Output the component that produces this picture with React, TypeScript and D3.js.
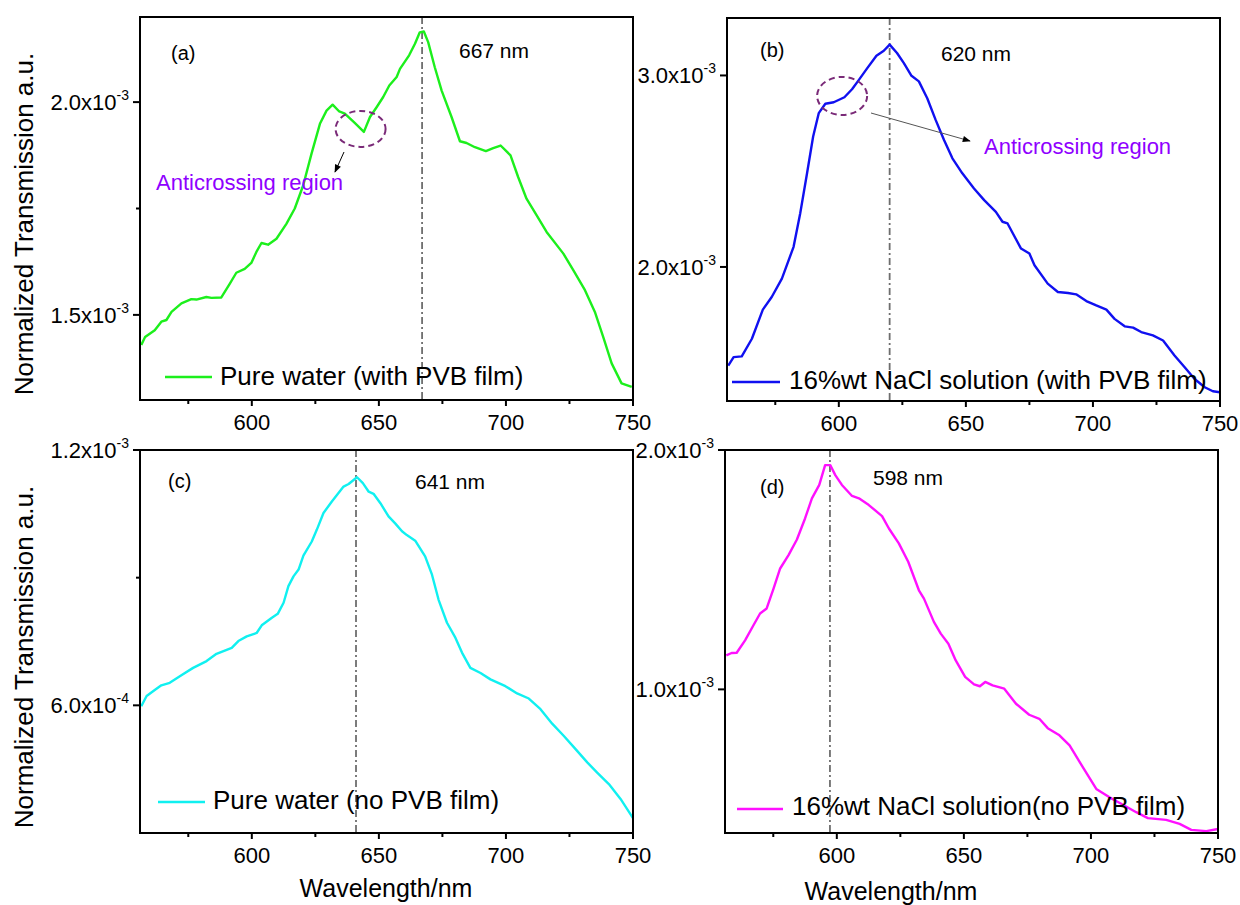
import React from 'react';
import * as d3 from 'd3';

const FONT = '"Liberation Sans", Arial, Helvetica, sans-serif';

// shared x axis
const X_DOMAIN: [number, number] = [556, 750];
const xMajorTicks = [600, 650, 700, 750];
const xMinorTicks = [575, 625, 675, 725];

// (a) Pure water (with PVB film) — values in units of 1e-3
const wlA = [556.5, 558, 561.8, 564.4, 566.4, 568.4, 572.3, 576.2, 578.2, 582.1, 584.1, 588, 591.3, 593.9, 597.2, 599.8, 601.8, 603.8, 606.4, 609.7, 613.6, 616.9, 620.2, 623.5, 626.8, 629.4, 631.8, 634.4, 636.6, 640.5, 644.1, 646.5, 649.1, 651.7, 654.1, 657, 658.3, 661.9, 664.2, 666.1, 667.7, 669.4, 672, 674.7, 678.6, 681.9, 684.5, 687.8, 692.1, 695, 697.9, 701.8, 704.8, 708.1, 712.1, 716, 722.6, 726.5, 731.1, 735, 738.3, 741.6, 745.5, 749.5];
const trA = [1.429, 1.448, 1.464, 1.484, 1.488, 1.507, 1.527, 1.537, 1.536, 1.542, 1.54, 1.541, 1.573, 1.599, 1.608, 1.622, 1.648, 1.669, 1.665, 1.679, 1.714, 1.75, 1.804, 1.879, 1.949, 1.98, 1.994, 1.978, 1.973, 1.951, 1.93, 1.965, 1.988, 2.012, 2.039, 2.059, 2.078, 2.11, 2.137, 2.164, 2.166, 2.141, 2.082, 2.027, 1.965, 1.908, 1.904, 1.894, 1.885, 1.892, 1.898, 1.875, 1.824, 1.773, 1.734, 1.695, 1.644, 1.605, 1.558, 1.507, 1.448, 1.386, 1.339, 1.331];

// (b) 16%wt NaCl solution (with PVB film) — units of 1e-3
const wlB = [556.5, 558.6, 561.8, 565.8, 570.1, 573.6, 577.6, 582.2, 584.8, 587.5, 589.9, 592.1, 594.7, 598, 602.2, 605.2, 607.9, 611.2, 614.8, 617.7, 620, 622.9, 625.6, 628.6, 631.5, 634.8, 638.1, 641.4, 644.7, 648.6, 653.2, 657.2, 661.8, 664.4, 666.4, 671.7, 675, 677, 682.2, 686.2, 690.2, 693.4, 697.4, 701.3, 705.3, 708.5, 712.5, 715.8, 719, 723.6, 727.6, 732.1, 736.1, 740, 744, 747.2, 750];
const trB = [1.485, 1.529, 1.533, 1.625, 1.777, 1.843, 1.939, 2.105, 2.279, 2.489, 2.681, 2.803, 2.852, 2.86, 2.886, 2.928, 2.977, 3.038, 3.103, 3.129, 3.161, 3.117, 3.064, 2.998, 2.969, 2.881, 2.768, 2.663, 2.567, 2.489, 2.41, 2.349, 2.288, 2.236, 2.227, 2.096, 2.07, 2.009, 1.913, 1.869, 1.864, 1.857, 1.822, 1.799, 1.777, 1.729, 1.69, 1.683, 1.66, 1.643, 1.616, 1.538, 1.476, 1.415, 1.372, 1.351, 1.346];

// (c) Pure water (no PVB film) — units of 1e-4
const wlC = [556.5, 558.6, 561.8, 564.4, 567.7, 572.9, 576.9, 582.2, 586.1, 592.1, 594.7, 598, 601.9, 603.9, 607.9, 610.2, 612.5, 614.4, 616.4, 618.4, 620.3, 623.6, 625.6, 628.2, 631.5, 636.1, 638.1, 641.4, 643.7, 646, 647.9, 650.6, 653.8, 656.5, 659.1, 661, 664.3, 668.2, 670.9, 673.5, 676.8, 680.1, 682.7, 686, 690, 693.9, 699.8, 704.4, 709, 713.6, 718.2, 722.8, 727.4, 732, 735.9, 740.5, 745.1, 750];
const trC = [5.98, 6.22, 6.36, 6.47, 6.53, 6.73, 6.88, 7.04, 7.21, 7.35, 7.51, 7.62, 7.7, 7.88, 8.06, 8.15, 8.41, 8.8, 9.03, 9.19, 9.52, 9.85, 10.13, 10.52, 10.79, 11.14, 11.2, 11.36, 11.22, 11.02, 10.97, 10.75, 10.44, 10.27, 10.09, 10.0, 9.87, 9.5, 9.07, 8.48, 7.94, 7.59, 7.24, 6.88, 6.76, 6.61, 6.45, 6.28, 6.16, 5.91, 5.57, 5.28, 4.97, 4.66, 4.42, 4.15, 3.8, 3.35];

// (d) 16%wt NaCl solution (no PVB film) — units of 1e-3
const wlD = [556.5, 558.6, 560.6, 563.9, 567.2, 569.8, 572.4, 575.1, 577.7, 581, 584.3, 587.5, 590.2, 593.1, 595.4, 597.4, 599.4, 602, 606, 608.7, 612.6, 617.8, 620.5, 624.4, 628.1, 632.3, 634.3, 638.2, 640.9, 643.9, 646.8, 650.5, 654, 656.3, 658.4, 661.3, 665.9, 670.5, 675.7, 679.7, 683, 687.6, 691.6, 696.8, 702.1, 707.3, 712.6, 717.8, 722.4, 729.6, 734.9, 739.5, 745.4, 750];
const trD = [1.142, 1.152, 1.153, 1.205, 1.268, 1.317, 1.338, 1.421, 1.505, 1.561, 1.626, 1.714, 1.798, 1.854, 1.937, 1.937, 1.895, 1.854, 1.808, 1.798, 1.77, 1.724, 1.672, 1.61, 1.533, 1.414, 1.379, 1.282, 1.233, 1.191, 1.121, 1.052, 1.021, 1.013, 1.031, 1.017, 1.003, 0.94, 0.894, 0.877, 0.838, 0.808, 0.766, 0.675, 0.584, 0.549, 0.518, 0.487, 0.462, 0.455, 0.438, 0.413, 0.408, 0.417];

const seriesNames = [
  'Pure water (with PVB film)',
  '16%wt NaCl solution (with PVB film)',
  'Pure water (no PVB film)',
  '16%wt NaCl solution(no PVB film)',
];
const panelTags = ['(a)', '(b)', '(c)', '(d)'];
const peakWl = [667, 620, 641, 597.3];
const peakLabels = ['667 nm', '620 nm', '641 nm', '598 nm'];
const colors = ['#1cef1c', '#1010f0', '#10f0f0', '#ff10ff'];

type Box = { l: number; t: number; r: number; b: number };
type Spec = {
  box: Box;
  yDomain: [number, number];
  yMajor: number[];
  yMinor: number[];
  unit: number;
  wl: number[];
  tr: number[];
  idx: number;
  tagPos: [number, number];
  peakPos: [number, number];
  legend: { x1: number; x2: number; y: number; tx: number; ty: number };
  anti?: {
    ellipse: [number, number]; // data coords
    rx: number;
    ry: number;
    from: [number, number];
    to: [number, number];
    text: [number, number];
    lineColor: string;
  };
};

const specs: Spec[] = [
  {
    box: { l: 140, t: 17, r: 633, b: 400 },
    yDomain: [1.3, 2.2], yMajor: [1.5, 2.0], yMinor: [1.75], unit: 1e-3,
    wl: wlA, tr: trA, idx: 0,
    tagPos: [31, 43], peakPos: [319, 41],
    legend: { x1: 25, x2: 72, y: 360, tx: 80, ty: 368 },
    anti: { ellipse: [642.8, 1.937], rx: 25, ry: 18, from: [204, 135], to: [195, 155], text: [16, 173], lineColor: '#000' },
  },
  {
    box: { l: 727, t: 18, r: 1220, b: 401 },
    yDomain: [1.3, 3.3], yMajor: [2.0, 3.0], yMinor: [], unit: 1e-3,
    wl: wlB, tr: trB, idx: 1,
    tagPos: [33, 39], peakPos: [214, 43],
    legend: { x1: 5, x2: 53, y: 364, tx: 62, ty: 371 },
    anti: { ellipse: [601.3, 2.893], rx: 25, ry: 19, from: [144, 95], to: [243, 123], text: [257, 136], lineColor: '#555' },
  },
  {
    box: { l: 140, t: 450, r: 633, b: 833 },
    yDomain: [3, 12], yMajor: [6, 12], yMinor: [9], unit: 1e-4,
    wl: wlC, tr: trC, idx: 2,
    tagPos: [28, 38], peakPos: [275, 39],
    legend: { x1: 18, x2: 65, y: 352, tx: 73, ty: 359 },
  },
  {
    box: { l: 725, t: 450, r: 1218, b: 833 },
    yDomain: [0.4, 2.0], yMajor: [1.0, 2.0], yMinor: [], unit: 1e-3,
    wl: wlD, tr: trD, idx: 3,
    tagPos: [35, 44], peakPos: [148, 35],
    legend: { x1: 12, x2: 58, y: 359, tx: 67, ty: 365 },
  },
];

function sciParts(v: number): [string, string] {
  const e = Math.floor(Math.log10(v) + 1e-9);
  const m = v / Math.pow(10, e);
  return [m.toFixed(1), String(e)];
}

function Panel({ spec }: { spec: Spec }) {
  const { box, yDomain, yMajor, yMinor, unit, wl, tr, idx } = spec;
  const x = d3.scaleLinear().domain(X_DOMAIN).range([box.l, box.r]);
  const y = d3.scaleLinear().domain(yDomain).range([box.b, box.t]);
  const pts = wl.map((w, i) => [w, tr[i]] as [number, number]);
  const path = d3.line<[number, number]>().x((d) => x(d[0])).y((d) => y(d[1]))(pts) || '';
  const clipId = `clip${idx}`;
  const color = colors[idx];
  const px = x(peakWl[idx]);
  return (
    <g>
      <defs>
        <clipPath id={clipId}>
          <rect x={box.l} y={box.t} width={box.r - box.l} height={box.b - box.t} />
        </clipPath>
      </defs>
      {/* peak line */}
      <line x1={px} x2={px} y1={box.t} y2={box.b} stroke="#6e6e6e" strokeWidth={1.8} strokeDasharray="7,3,2,3" />
      {/* curve */}
      <path d={path} fill="none" stroke={color} strokeWidth={2.4} strokeLinejoin="round" clipPath={`url(#${clipId})`} />
      {/* frame */}
      <rect x={box.l} y={box.t} width={box.r - box.l} height={box.b - box.t} fill="none" stroke="#000" strokeWidth={2} />
      {/* x ticks */}
      {xMajorTicks.map((t) => (
        <g key={'xm' + t}>
          <line x1={x(t)} x2={x(t)} y1={box.b} y2={box.b + 6} stroke="#000" strokeWidth={2} />
          <text x={x(t)} y={box.b + 30} textAnchor="middle" fontSize={22} fontFamily={FONT} fill="#000">{t}</text>
        </g>
      ))}
      {xMinorTicks.map((t) => (
        <line key={'xn' + t} x1={x(t)} x2={x(t)} y1={box.b} y2={box.b + 4} stroke="#000" strokeWidth={2} />
      ))}
      {/* y ticks */}
      {yMajor.map((t) => {
        const [m, e] = sciParts(t * unit);
        return (
          <g key={'ym' + t}>
            <line x1={box.l - 7} x2={box.l} y1={y(t)} y2={y(t)} stroke="#000" strokeWidth={2} />
            <text x={box.l - 11} y={y(t) + 8} textAnchor="end" fontSize={22} fontFamily={FONT} fill="#000">
              {m}x10<tspan fontSize={14} dy={-10}>{e}</tspan>
            </text>
          </g>
        );
      })}
      {yMinor.map((t) => (
        <line key={'yn' + t} x1={box.l - 4} x2={box.l} y1={y(t)} y2={y(t)} stroke="#000" strokeWidth={2} />
      ))}
      {/* tags */}
      <text x={box.l + spec.tagPos[0]} y={box.t + spec.tagPos[1]} fontSize={20} fontFamily={FONT} fill="#000">{panelTags[idx]}</text>
      <text x={box.l + spec.peakPos[0]} y={box.t + spec.peakPos[1]} fontSize={21} fontFamily={FONT} fill="#000">{peakLabels[idx]}</text>
      {/* legend */}
      <line x1={box.l + spec.legend.x1} x2={box.l + spec.legend.x2} y1={box.t + spec.legend.y} y2={box.t + spec.legend.y} stroke={color} strokeWidth={2.4} />
      <text x={box.l + spec.legend.tx} y={box.t + spec.legend.ty} fontSize={26} fontFamily={FONT} fill="#000">{seriesNames[idx]}</text>
      {spec.anti && (
        <g>
          <ellipse cx={x(spec.anti.ellipse[0])} cy={y(spec.anti.ellipse[1])} rx={spec.anti.rx} ry={spec.anti.ry} fill="none" stroke="#7a2a78" strokeWidth={2} strokeDasharray="6,4" />
          <line x1={box.l + spec.anti.from[0]} y1={box.t + spec.anti.from[1]} x2={box.l + spec.anti.to[0]} y2={box.t + spec.anti.to[1]} stroke={spec.anti.lineColor} strokeWidth={1} markerEnd="url(#arrowHead)" />
          <text x={box.l + spec.anti.text[0]} y={box.t + spec.anti.text[1]} fontSize={22} fontFamily={FONT} fill="#8f00ff">Anticrossing region</text>
        </g>
      )}
    </g>
  );
}

export default function App() {
  return (
    <svg width={1240} height={905} style={{ position: 'absolute', left: 0, top: 0, background: '#fff' }}>
      <defs>
        <marker id="arrowHead" viewBox="0 0 10 10" refX={9} refY={5} markerWidth={10} markerHeight={8} markerUnits="userSpaceOnUse" orient="auto">
          <path d="M0,1 L10,5 L0,9 z" fill="#000" />
        </marker>
      </defs>
      <rect x={0} y={0} width={1240} height={905} fill="#fff" />
      {specs.map((s) => <Panel key={s.idx} spec={s} />)}
      <text transform="translate(33,224) rotate(-90)" textAnchor="middle" fontSize={26} fontFamily={FONT} fill="#000">Normalized Transmission a.u.</text>
      <text transform="translate(33,657) rotate(-90)" textAnchor="middle" fontSize={26} fontFamily={FONT} fill="#000">Normalized Transmission a.u.</text>
      <text x={386} y={897} textAnchor="middle" fontSize={25} fontFamily={FONT} fill="#000">Wavelength/nm</text>
      <text x={891} y={900} textAnchor="middle" fontSize={25} fontFamily={FONT} fill="#000">Wavelength/nm</text>
    </svg>
  );
}
